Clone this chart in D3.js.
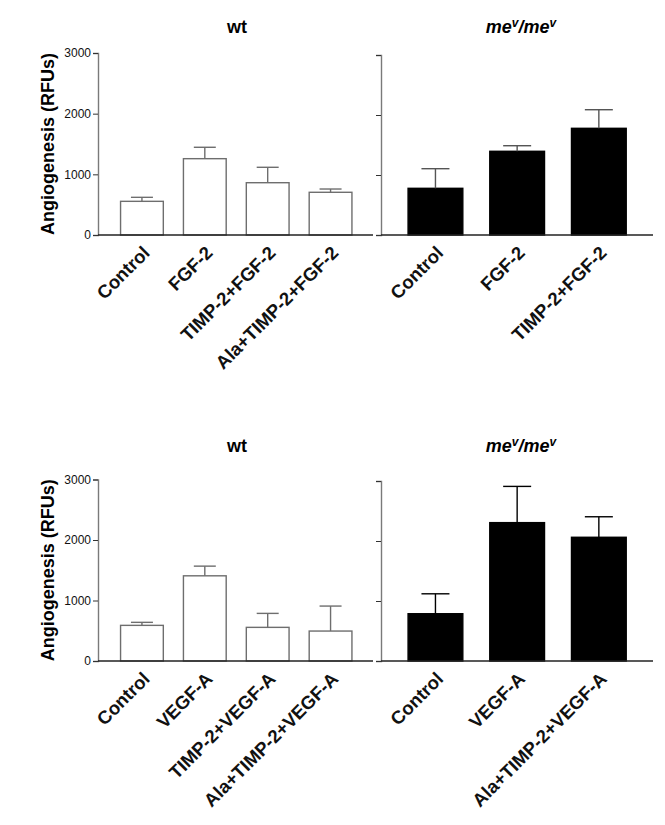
<!DOCTYPE html>
<html><head><meta charset="utf-8">
<script src="https://cdn.jsdelivr.net/npm/d3@7"></script>
<style>body{margin:0;background:#fff}svg{display:block;font-family:"Liberation Sans",Arial,sans-serif}</style>
</head><body><svg id="c" width="665" height="825"></svg>
<script>
const yTicks = [0, 1000, 2000, 3000];
const yLabel = "Angiogenesis (RFUs)";
const wtTitle = "wt";

const fgfWtCats = ["Control", "FGF-2", "TIMP-2+FGF-2", "Ala+TIMP-2+FGF-2"];
const fgfWtMean = [555, 1258, 862, 704];
const fgfWtErr  = [66, 188, 254, 54];

const fgfMevCats = ["Control", "FGF-2", "TIMP-2+FGF-2"];
const fgfMevMean = [778, 1395, 1778];
const fgfMevErr  = [327, 93, 310];

const vegfWtCats = ["Control", "VEGF-A", "TIMP-2+VEGF-A", "Ala+TIMP-2+VEGF-A"];
const vegfWtMean = [589, 1408, 556, 495];
const vegfWtErr  = [50, 160, 231, 413];

const vegfMevCats = ["Control", "VEGF-A", "Ala+TIMP-2+VEGF-A"];
const vegfMevMean = [788, 2306, 2062];
const vegfMevErr  = [332, 604, 342];

const svg = d3.select("#c");

function panel(opt) {
  const {cats, mean, err, x0, x1, yTop, yBot, axisX, baseL, baseR, fill, errColor, labels, capW, pi, po} = opt;
  const y = d3.scaleLinear().domain([0, 3000]).range([yBot, yTop]);
  const x = d3.scaleBand().domain(cats).range([x0, x1]).paddingInner(pi).paddingOuter(po);
  const g = svg.append("g");
  g.selectAll(".bar").data(cats).enter().append("rect")
    .attr("x", d => x(d)).attr("width", x.bandwidth())
    .attr("y", (d, i) => y(mean[i])).attr("height", (d, i) => y(0) - y(mean[i]))
    .attr("fill", fill).attr("stroke", fill === "#000" ? "#000" : "#6e6e6e").attr("stroke-width", 1.4);
  cats.forEach((d, i) => {
    const cx = x(d) + x.bandwidth() / 2;
    g.append("line").attr("x1", cx).attr("x2", cx).attr("y1", y(mean[i])).attr("y2", y(mean[i] + err[i]))
      .attr("stroke", errColor).attr("stroke-width", 1.4);
    g.append("line").attr("x1", cx - capW / 2).attr("x2", cx + capW / 2).attr("y1", y(mean[i] + err[i])).attr("y2", y(mean[i] + err[i]))
      .attr("stroke", errColor).attr("stroke-width", 1.4);
  });
  const ax = g.append("g").attr("transform", `translate(${axisX},0)`)
    .call(d3.axisLeft(y).tickValues(yTicks).tickSize(5).tickPadding(2).tickFormat(labels ? d3.format("d") : ""));
  ax.select(".domain").attr("stroke", "#7a7a7a").attr("stroke-width", 1.4);
  ax.selectAll(".tick line").attr("stroke", "#333").attr("stroke-width", 1);
  ax.selectAll(".tick text").attr("font-size", 12).attr("fill", "#111");
  g.append("line").attr("x1", baseL).attr("x2", baseR).attr("y1", y(0)).attr("y2", y(0))
    .attr("stroke", "#222").attr("stroke-width", 1.3);
  cats.forEach(d => {
    const cx = x(d) + x.bandwidth() / 2 + 9;
    const cy = y(0) + 19;
    g.append("text").attr("transform", `translate(${cx},${cy}) rotate(-45)`)
      .attr("text-anchor", "end").attr("font-size", 18.5).attr("font-weight", "bold").attr("fill", "#111").text(d);
  });
  return y;
}

function titles(yT, yTop, yBot) {
  svg.append("text").attr("x", 237).attr("y", yT).attr("text-anchor", "middle")
    .attr("font-size", 18).attr("font-weight", "bold").text(wtTitle);
  const t = svg.append("text").attr("x", 521).attr("y", yT).attr("text-anchor", "middle")
    .attr("font-size", 18).attr("font-weight", "bold").attr("font-style", "italic");
  t.append("tspan").text("me");
  t.append("tspan").attr("font-size", 12).attr("dy", -6).text("v");
  t.append("tspan").attr("dy", 6).text("/me");
  t.append("tspan").attr("font-size", 12).attr("dy", -6).text("v");
  const cy = (yTop + yBot) / 2;
  svg.append("text").attr("transform", `translate(54,${cy}) rotate(-90)`).attr("text-anchor", "middle")
    .attr("font-size", 18).attr("font-weight", "bold").text(yLabel);
}

panel({cats: fgfWtCats, mean: fgfWtMean, err: fgfWtErr, x0: 110.5, x1: 362, yTop: 53, yBot: 235,
  axisX: 98, baseL: 98, baseR: 373, fill: "#fff", errColor: "#6e6e6e", labels: true, capW: 22, pi: 0.32, po: 0.16});
panel({cats: fgfMevCats, mean: fgfMevMean, err: fgfMevErr, x0: 394.6, x1: 639.7, yTop: 55, yBot: 235,
  axisX: 381, baseL: 381, baseR: 653, fill: "#000", errColor: "#555", labels: false, capW: 28, pi: 0.33, po: 0.165});
titles(33, 53, 235);

panel({cats: vegfWtCats, mean: vegfWtMean, err: vegfWtErr, x0: 110.5, x1: 362, yTop: 479.5, yBot: 661,
  axisX: 98, baseL: 98, baseR: 373, fill: "#fff", errColor: "#6e6e6e", labels: true, capW: 22, pi: 0.32, po: 0.16});
panel({cats: vegfMevCats, mean: vegfMevMean, err: vegfMevErr, x0: 394.6, x1: 639.7, yTop: 481, yBot: 661,
  axisX: 381, baseL: 381, baseR: 653, fill: "#000", errColor: "#000", labels: false, capW: 28, pi: 0.33, po: 0.165});
titles(452, 479.5, 661);
</script></body></html>
